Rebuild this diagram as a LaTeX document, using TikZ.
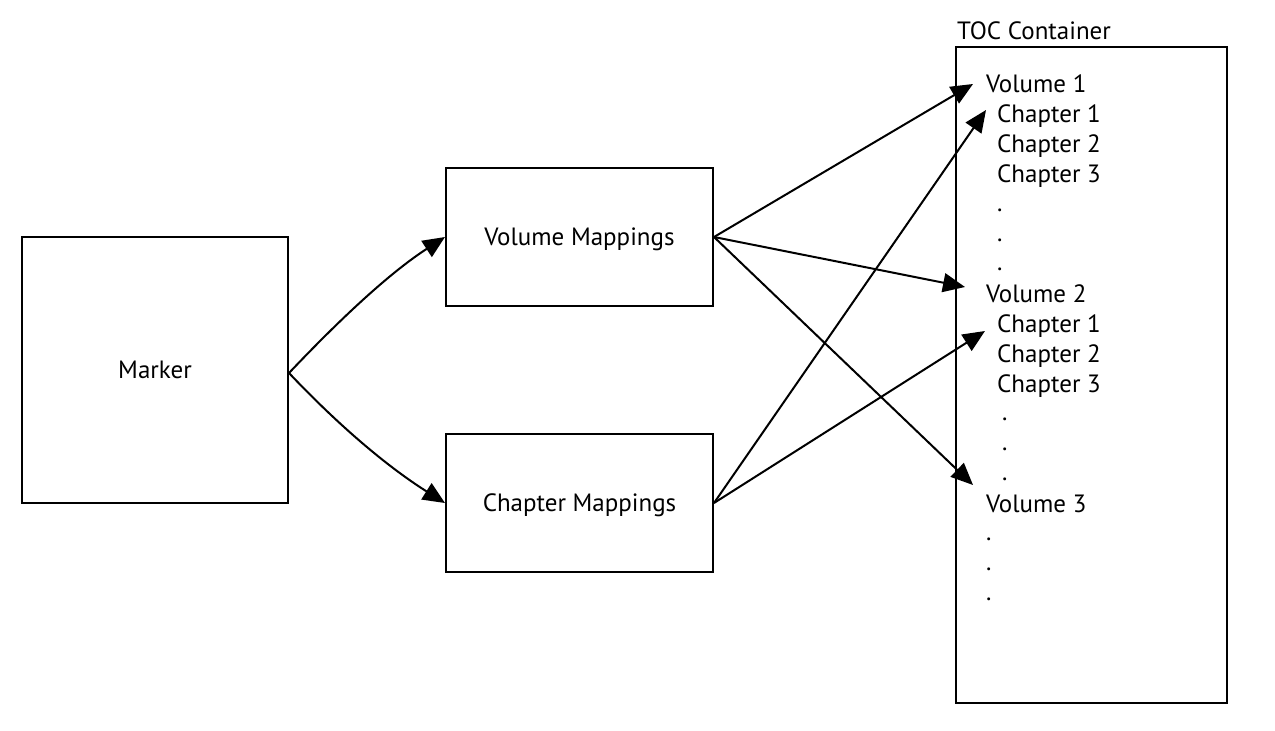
\documentclass[tikz,border=0pt]{standalone}
\usepackage{fontspec}
\setmainfont{PT Sans}
\usetikzlibrary{arrows.meta}
\begin{document}
\begin{tikzpicture}[x=1pt,y=-1pt,
  every node/.style={font=\fontsize{25}{30}\selectfont, inner sep=0pt},
  box/.style={draw, line width=2pt, fill=white, text depth=0pt},
  item/.style={anchor=base west},
  conn/.style={line width=2pt, -{Triangle[length=22pt,width=19pt]}}]
\useasboundingbox (0,0) rectangle (1275,731);
\node[box, minimum width=266pt, minimum height=266pt] (marker) at (155,370) {Marker};
\node[box, minimum width=267pt, minimum height=138pt] (vm) at (579.5,237) {Volume Mappings};
\node[box, minimum width=267pt, minimum height=138pt] (cm) at (579.5,503) {Chapter Mappings};
\node[draw, line width=2pt, minimum width=271pt, minimum height=656pt] (toc) at (1091.5,375) {};
\node[item] (toclabel) at (957,39) {TOC Container};
\node[item] (v1) at (986,92) {Volume 1};
\node[item] (v1c1) at (997,122) {Chapter 1};
\node[item] (v1c2) at (997,152) {Chapter 2};
\node[item] (v1c3) at (997,182) {Chapter 3};
\node[item] (v1d1) at (997,211) {.};
\node[item] (v1d2) at (997,241) {.};
\node[item] (v1d3) at (997,270) {.};
\node[item] (v2) at (986,302) {Volume 2};
\node[item] (v2c1) at (997,332) {Chapter 1};
\node[item] (v2c2) at (997,362) {Chapter 2};
\node[item] (v2c3) at (997,392) {Chapter 3};
\node[item] (v2d1) at (1002,420) {.};
\node[item] (v2d2) at (1002,450) {.};
\node[item] (v2d3) at (1002,480) {.};
\node[item] (v3) at (986,512) {Volume 3};
\node[item] (v3d1) at (986,540) {.};
\node[item] (v3d2) at (986,570) {.};
\node[item] (v3d3) at (986,600) {.};
\coordinate (mstart) at ([yshift=-3pt]marker.east);
\coordinate (t1) at (973,84);
\coordinate (t2) at (965,287);
\coordinate (t3) at (973,485);
\coordinate (t4) at (986,110);
\coordinate (t5) at (985,331);
\draw[conn] (mstart) .. controls (343,316) and (391,272) .. (vm.west);
\draw[conn] (mstart) .. controls (343,430) and (391,469) .. (cm.west);
\draw[conn] (vm.east) -- (t1);
\draw[conn] (vm.east) -- (t2);
\draw[conn] (vm.east) -- (t3);
\draw[conn] (cm.east) -- (t4);
\draw[conn] (cm.east) -- (t5);
\end{tikzpicture}
\end{document}
